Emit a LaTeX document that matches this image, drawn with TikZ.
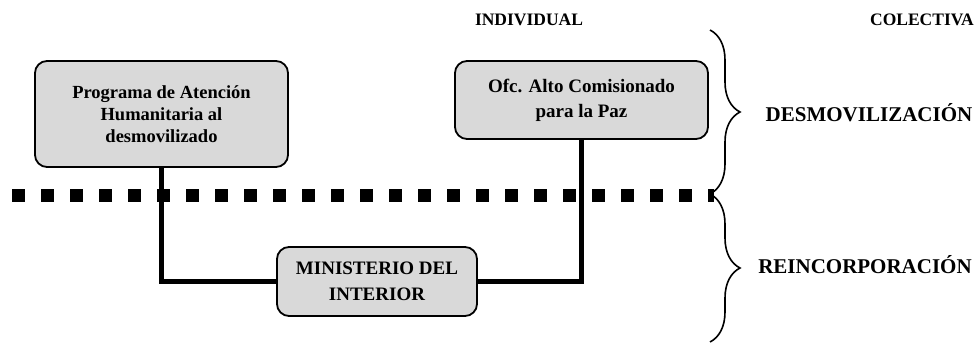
\documentclass[tikz,border=0pt]{standalone}
\usepackage{fontspec}
\setmainfont{Liberation Serif}
\usetikzlibrary{decorations.pathreplacing}
\begin{document}
\begin{tikzpicture}[x=1pt,y=1pt,
  boxnode/.style={draw=black,line width=1.8pt,fill=black!15,rounded corners=12pt,
    align=center,font=\bfseries\fontsize{18.5}{22}\selectfont,inner sep=0pt},
  conn/.style={line width=5pt},
  lbl/.style={font=\bfseries\fontsize{17.5}{19}\selectfont,anchor=center},
  biglbl/.style={font=\bfseries\fontsize{21}{23}\selectfont,anchor=center},
  bracestyle/.style={line width=1.6pt,decorate,decoration={brace,amplitude=30pt}}]
\useasboundingbox (0,0) rectangle (980,-344);
% dotted separator
\draw[line width=13pt,dash pattern=on 13pt off 16pt] (12,-196) -- (714,-196);
% boxes
\node[boxnode,minimum width=253pt,minimum height=106pt] (p) at (161.5,-114)
  {Programa de Atención\\Humanitaria al\\desmovilizado};
\node[boxnode,minimum width=253pt,minimum height=78pt,
  font=\bfseries\fontsize{19}{25}\selectfont] (o) at (581.5,-100)
  {Ofc. Alto Comisionado\\para la Paz};
\node[boxnode,minimum width=200pt,minimum height=69pt,
  font=\bfseries\fontsize{19}{26}\selectfont] (m) at (377,-281.5)
  {MINISTERIO DEL\\INTERIOR};
% connectors
\draw[conn] (p.south) |- (m.west);
\draw[conn] (m.east) -| (o.south);
% headings
\node[lbl] (ind) at (529,-20) {INDIVIDUAL};
\node[lbl] (col) at (922,-20) {COLECTIVA};
% braces
\coordinate (b1) at (710,-30);
\coordinate (b2) at (710,-194);
\coordinate (b3) at (710,-342);
\draw[bracestyle] (b1) -- (b2);
\draw[bracestyle] (b2) -- (b3);
\node[biglbl] (d) at (869,-113) {DESMOVILIZACIÓN};
\node[biglbl] (r) at (865,-265) {REINCORPORACIÓN};
\end{tikzpicture}
\end{document}
